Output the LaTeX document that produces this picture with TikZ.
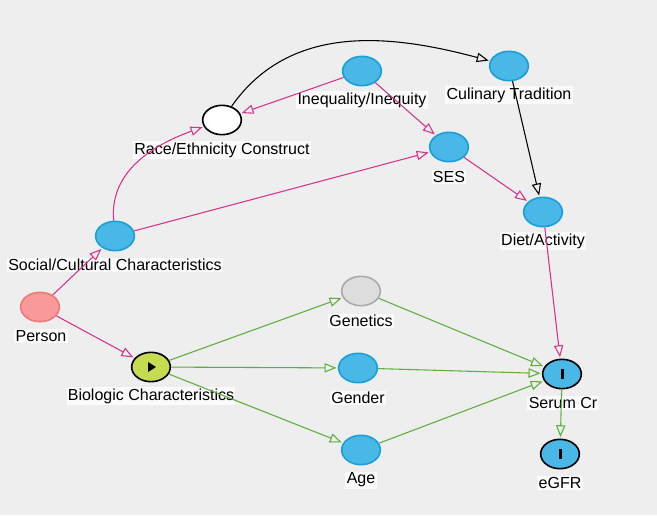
\documentclass[tikz,border=0pt]{standalone}
\usepackage{fontspec}
\setmainfont{Liberation Sans}
\usetikzlibrary{shapes.geometric,arrows.meta}
\definecolor{bg}{HTML}{EEEEEE}
\definecolor{blu}{HTML}{4AB8E6}
\definecolor{blub}{HTML}{1A9FD8}
\definecolor{pnk}{HTML}{D6338A}
\definecolor{grn}{HTML}{5DAE3C}
\begin{document}
\begin{tikzpicture}[x=0.75pt,y=-0.75pt,
  v/.style={ellipse,draw=blub,fill=blu,line width=1.2pt,minimum width=29pt,minimum height=22pt,inner sep=0pt},
  lab/.style={font=\fontsize{12pt}{14pt}\selectfont,fill=white,fill opacity=0.8,text opacity=1,inner sep=1pt},
  e/.style={line width=0.8pt,-{Triangle[open,length=9pt,width=7pt]},shorten >=1pt},
  pe/.style={e,pnk}, ge/.style={e,grn}, be/.style={e,black}]
\fill[bg] (0,0) rectangle (657,515);
\useasboundingbox (0,0) rectangle (657,515);
\node[v,fill={rgb,255:red,249;green,153;blue,153},draw={rgb,255:red,242;green,120;blue,120}] (P) at (40,307) {};
\node[v] (S) at (115,236) {};
\node[v,fill=white,draw=black] (R) at (222,120) {};
\node[v] (I) at (362,71) {};
\node[v] (C) at (509,66) {};
\node[v] (SES) at (449,147) {};
\node[v] (D) at (543,212) {};
\node[v,fill={rgb,255:red,221;green,221;blue,221},draw={rgb,255:red,170;green,170;blue,170}] (G) at (361,291) {};
\node[v,fill={rgb,255:red,197;green,220;blue,80},draw=black] (B) at (151,367) {};
\node[v] (Ge) at (358,368) {};
\node[v] (A) at (361,450) {};
\node[v,draw=black] (Cr) at (562,374) {};
\node[v,draw=black] (E) at (560,454) {};
\fill (148,362) -- (156,367) -- (148,372) -- cycle;
\fill (560.5,369) rectangle (563.5,379);
\fill (558.5,449) rectangle (561.5,459);
\node[lab] at (41,336) {Person};
\node[lab] at (115,265) {Social/Cultural Characteristics};
\node[lab] at (222,150) {Race/Ethnicity Construct};
\node[lab] at (362,100) {Inequality/Inequity};
\node[lab] at (509,95) {Culinary Tradition};
\node[lab] at (449,177) {SES};
\node[lab] at (543,241) {Diet/Activity};
\node[lab] at (361,321) {Genetics};
\node[lab] at (151,396) {Biologic Characteristics};
\node[lab] at (358,398) {Gender};
\node[lab] at (361,480) {Age};
\node[lab] at (563,403) {Serum Cr};
\node[lab] at (560,483) {eGFR};
\draw[pe] (P) -- (S);
\draw[pe] (P) -- (B);
\draw[pe] (S) to[out=95,in=200] (R);
\draw[pe] (S) -- (SES);
\draw[pe] (I) -- (R);
\draw[pe] (I) -- (SES);
\draw[pe] (SES) -- (D);
\draw[be] (R) to[out=55,in=165] (C);
\draw[be] (C) -- (D);
\draw[pe] (D) -- (Cr);
\draw[ge] (B) -- (G);
\draw[ge] (B) -- (Ge);
\draw[ge] (B) -- (A);
\draw[ge] (G) -- (Cr);
\draw[ge] (Ge) -- (Cr);
\draw[ge] (A) -- (Cr);
\draw[ge] (Cr) -- (E);
\end{tikzpicture}
\end{document}
